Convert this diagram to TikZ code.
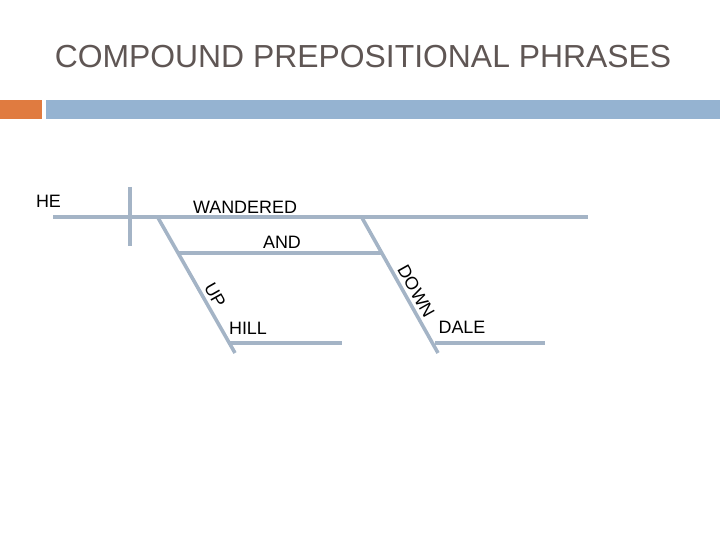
\documentclass[tikz,border=0pt]{standalone}
\usepackage{fontspec}
\setmainfont{Liberation Sans}
\usepackage{xcolor}
\usetikzlibrary{positioning,calc}
\definecolor{titlegrey}{HTML}{5F5654}
\definecolor{barorange}{HTML}{E07B40}
\definecolor{barblue}{HTML}{95B3D1}
\definecolor{diagline}{HTML}{A4B4C6}
\tikzset{
  dline/.style={draw=diagline, line width=3.6pt},
  dword/.style={font=\fontsize{18}{20}\selectfont, text=black, inner sep=0pt},
  dslant/.style={dword, sloped, above=3pt, anchor=south},
  htitle/.style={font=\fontsize{32}{36}\selectfont, text=titlegrey, inner sep=0pt},
}

\begin{document}
\begin{tikzpicture}[x=1bp, y=-1bp]
  \useasboundingbox (0,0) rectangle (720,540);
  % heading and bar
  \node[htitle] (title) at (363,57) {COMPOUND PREPOSITIONAL PHRASES};
  \fill[barorange] (0,100) rectangle (42,119);
  \fill[barblue] (46,100) rectangle (720,119);
  % baseline and divider
  \coordinate (base1) at (53,217);
  \coordinate (base2) at (588,217);
  \coordinate (div1) at (130,187);
  \coordinate (div2) at (130,246);
  \draw[dline] (base1) -- (base2);
  \draw[dline] (div1) -- (div2);
  % compound prepositional phrases
  \coordinate (up1) at (157,216);
  \coordinate (up2) at (235,353);
  \coordinate (down1) at (361,216);
  \coordinate (down2) at (438,353);
  \coordinate (and1) at (178,253);
  \coordinate (and2) at (382,253);
  \coordinate (hill1) at (230,343);
  \coordinate (hill2) at (342,343);
  \coordinate (dale1) at (435,343);
  \coordinate (dale2) at (545,343);
  \draw[dline] (up1) -- node[dslant, pos=0.62] (uplbl) {UP} (up2);
  \draw[dline] (down1) -- node[dslant, pos=0.59] (downlbl) {DOWN} (down2);
  \draw[dline] (and1) -- (and2);
  \draw[dline] (hill1) -- (hill2);
  \draw[dline] (dale1) -- (dale2);
  % words
  \node[dword] (he) at (48.5,201) {HE};
  \node[dword] (wandered) at (245,207) {WANDERED};
  \node[dword] (and) at (282,242) {AND};
  \node[dword] (hill) at (248,328) {HILL};
  \node[dword] (dale) at (462,327) {DALE};
\end{tikzpicture}
\end{document}
